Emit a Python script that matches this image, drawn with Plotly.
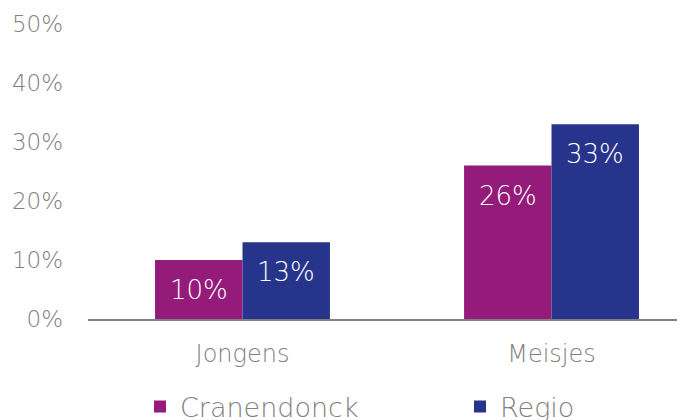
import plotly.graph_objects as go

categories = ["Jongens", "Meisjes"]
series_names = ["Cranendonck", "Regio"]
cranendonck = [0.10, 0.26]
regio = [0.13, 0.33]
y_ticks = [0, 0.1, 0.2, 0.3, 0.4, 0.5]
y_tick_labels = ["0%", "10%", "20%", "30%", "40%", "50%"]

colors = ["#951B7A", "#27348B"]
FONT = "DejaVu Sans"
GREY = "#808080"
BARGAP = 0.434
W, H = 677, 412  # page body has an 8px margin inside the 685x420 window

fig = go.Figure()
legends = ["legend", "legend2"]
for name, vals, col, lg in zip(series_names, [cranendonck, regio], colors, legends):
    fig.add_trace(go.Bar(x=categories, y=vals, name=name, marker_color=col,
                         marker_line_width=0, hoverinfo="skip", legend=lg))

bar_w = (1 - BARGAP) / 2
for si, vals in enumerate([cranendonck, regio]):
    off = (si - 0.5) * bar_w
    for ci, v in enumerate(vals):
        fig.add_annotation(x=ci + off, y=v, xref="x", yref="y",
                           text=f"{round(v*100)}%", showarrow=False,
                           yshift=-30, font=dict(family=FONT, size=26, color="white", weight=300))

leg_common = dict(orientation="h", yref="container", yanchor="middle", y=1 - 399 / H,
                  xref="container", xanchor="left",
                  font=dict(family=FONT, size=27, color=GREY, weight=300), itemclick=False,
                  bgcolor="rgba(0,0,0,0)")

fig.update_layout(
    width=W, height=H,
    margin=dict(l=80, r=0, t=16, b=101),
    paper_bgcolor="white", plot_bgcolor="white",
    barmode="group", bargap=BARGAP, bargroupgap=0,
    showlegend=True,
    legend=dict(x=132 / W, **leg_common),
    legend2=dict(x=452 / W, **leg_common),
    xaxis=dict(type="category", range=[-0.5, 1.432], showline=True, linecolor=GREY,
               linewidth=2, showgrid=False, ticks="", ticklabelstandoff=12, automargin=False,
               tickfont=dict(family=FONT, size=24, color=GREY, weight=300)),
    yaxis=dict(range=[0, 0.5], tickvals=y_ticks, ticktext=y_tick_labels, showgrid=False,
               showline=False, zeroline=False, ticks="", ticklabelstandoff=24, automargin=False,
               tickfont=dict(family=FONT, size=23, color=GREY, weight=300)),
)
fig.write_html("out.html")
